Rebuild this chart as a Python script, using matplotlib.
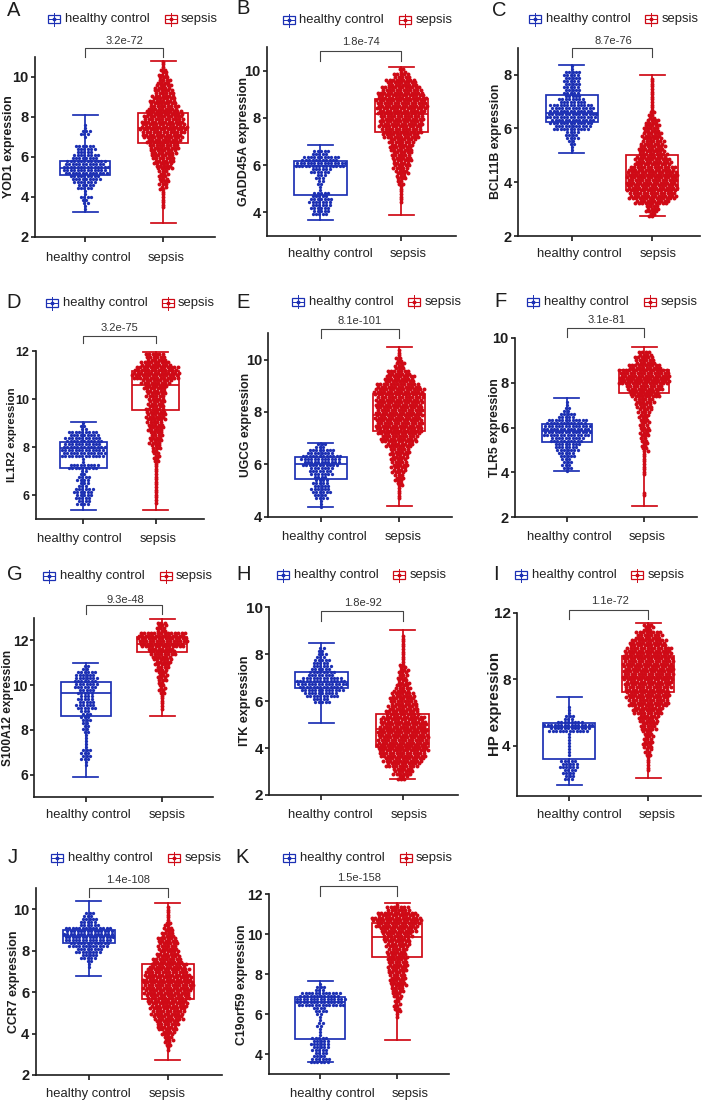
import numpy as np
import matplotlib
matplotlib.use('Agg')
import matplotlib.pyplot as plt
from matplotlib.patches import Rectangle
from matplotlib.transforms import ScaledTranslation

plt.rcParams['font.family'] = ['Liberation Sans', 'DejaVu Sans']

groups = ['healthy control', 'sepsis']
letters = ['A', 'B', 'C', 'D', 'E', 'F', 'G', 'H', 'I', 'J', 'K']
genes = ['YOD1', 'GADD45A', 'BCL11B', 'IL1R2', 'UGCG', 'TLR5', 'S100A12', 'ITK', 'HP', 'CCR7', 'C19orf59']
pvalues = ['3.2e-72', '1.8e-74', '8.7e-76', '3.2e-75', '8.1e-101', '3.1e-81',
           '9.3e-48', '1.8e-92', '1.1e-72', '1.4e-108', '1.5e-158']

# box stats: low whisker, q1, median, q3, high whisker
box_h = [[3.25, 5.1, 5.45, 5.8, 8.1], [3.66, 4.75, 5.98, 6.16, 6.87], [5.08, 6.25, 6.57, 7.23, 8.35],
         [5.38, 7.15, 7.95, 8.2, 9.03], [4.38, 5.45, 6.0, 6.27, 6.82], [4.05, 5.37, 5.83, 6.15, 7.33],
         [5.9, 8.6, 9.65, 10.12, 10.98], [5.08, 6.55, 6.82, 7.24, 8.48], [1.66, 3.22, 5.1, 5.36, 6.96],
         [6.78, 8.35, 8.7, 9.0, 10.37], [3.6, 4.75, 6.6, 6.85, 7.67]]
box_s = [[2.7, 6.7, 7.47, 8.22, 10.8], [3.9, 7.42, 8.18, 8.8, 10.16], [2.73, 3.7, 4.27, 5.02, 7.98],
         [5.37, 9.55, 10.6, 11.18, 11.95], [4.4, 7.28, 7.87, 8.68, 10.48], [2.52, 7.52, 8.1, 8.55, 9.57],
         [8.6, 11.45, 11.85, 12.15, 12.93], [2.68, 4.03, 4.83, 5.47, 9.05], [2.06, 7.24, 8.16, 9.4, 11.38],
         [2.7, 5.67, 6.5, 7.36, 10.3], [4.72, 8.85, 9.85, 10.55, 11.58]]

# swarm width (dots side by side) in bins of 0.25 going up from the start value
a_h_start, a_h_width = 3.25, [0, 1, 2, 4, 1, 5, 7, 9, 13, 14, 12, 8, 5, 6, 0, 1, 3, 1]
a_s_start, a_s_width = 3.5, [1, 1, 1, 1, 2, 3, 3, 3, 5, 6, 7, 8, 9, 10, 12, 13, 14, 13, 12, 11, 9, 8, 7, 6, 5, 4, 3, 2, 1, 1]
b_h_start, b_h_width = 4.0, [5, 6, 7, 5, 1, 2, 3, 6, 15, 11, 5]
b_s_start, b_s_width = 4.5, [1, 1, 1, 2, 3, 4, 5, 6, 6, 7, 8, 11, 12, 13, 13, 14, 15, 15, 14, 12, 9, 5, 2]
c_h_start, c_h_width = 5.25, [1, 2, 4, 11, 13, 15, 13, 8, 5, 5, 5, 5, 1]
c_s_start, c_s_width = 2.75, [2, 4, 10, 14, 15, 15, 15, 14, 11, 9, 8, 7, 6, 5, 4, 2, 1, 1, 1, 1, 1]
d_h_start, d_h_width = 5.75, [4, 5, 6, 3, 4, 2, 9, 1, 13, 13, 11, 9, 2, 1]
d_s_start, d_s_width = 5.75, [1, 1, 1, 1, 1, 1, 1, 2, 2, 3, 4, 4, 5, 5, 6, 6, 5, 5, 6, 7, 9, 14, 13, 9, 6]
e_h_start, e_h_width = 4.5, [1, 4, 6, 5, 4, 7, 11, 12, 8, 3]
e_s_start, e_s_width = 4.75, [1, 1, 2, 3, 4, 5, 5, 6, 8, 11, 13, 14, 14, 14, 14, 14, 15, 13, 9, 7, 3, 2, 1]
f_h_start, f_h_width = 4.0, [1, 3, 3, 5, 7, 8, 10, 14, 14, 12, 5, 2, 1]
f_s_start, f_s_width = 3.0, [1, 0, 0, 0, 1, 1, 1, 1, 2, 2, 2, 3, 3, 3, 3, 4, 5, 6, 9, 11, 15, 15, 15, 10, 6, 4]
g_h_start, g_h_width = 6.5, [1, 3, 3, 1, 1, 1, 2, 2, 3, 3, 6, 5, 4, 5, 7, 7, 6, 2]
g_s_start, g_s_width = 9.0, [1, 1, 1, 2, 2, 3, 3, 4, 5, 6, 8, 13, 15, 14, 3, 3]
h_h_start, h_h_width = 6.0, [5, 10, 13, 15, 12, 8, 6, 5, 3, 2]
h_s_start, h_s_width = 2.75, [3, 6, 10, 12, 14, 15, 15, 15, 15, 14, 13, 10, 9, 8, 7, 5, 4, 3, 3, 2, 1, 1, 1, 1, 1]
i_h_start, i_h_width = 2.0, [3, 3, 4, 6, 5, 0, 1, 1, 1, 1, 1, 1, 12, 15, 8, 3, 1, 1]
i_s_start, i_s_width = 2.5, [1, 1, 1, 1, 2, 2, 3, 3, 3, 3, 5, 5, 6, 6, 9, 9, 12, 12, 13, 13, 14, 14, 15, 15, 15, 15, 15, 15,
                             14, 14, 11, 11, 8, 8, 3, 3]
j_h_start, j_h_width = 7.25, [1, 2, 5, 8, 12, 14, 15, 14, 6, 5, 3]
j_s_start, j_s_width = 3.25, [1, 2, 3, 4, 6, 7, 9, 10, 11, 12, 13, 14, 15, 15, 14, 13, 11, 9, 7, 6, 6, 6, 4, 3, 2, 1, 1, 1]
k_h_start, k_h_width = 3.5, [6, 6, 4, 5, 6, 5, 1, 1, 2, 1, 2, 4, 14, 15, 12, 3, 1]
k_s_start, k_s_width = 6.0, [1, 2, 2, 2, 3, 4, 5, 5, 5, 6, 6, 6, 6, 6, 7, 8, 9, 11, 13, 15, 12, 7, 1]

swarm_h = [(a_h_start, a_h_width), (b_h_start, b_h_width), (c_h_start, c_h_width), (d_h_start, d_h_width),
           (e_h_start, e_h_width), (f_h_start, f_h_width), (g_h_start, g_h_width), (h_h_start, h_h_width),
           (i_h_start, i_h_width), (j_h_start, j_h_width), (k_h_start, k_h_width)]
swarm_s = [(a_s_start, a_s_width), (b_s_start, b_s_width), (c_s_start, c_s_width), (d_s_start, d_s_width),
           (e_s_start, e_s_width), (f_s_start, f_s_width), (g_s_start, g_s_width), (h_s_start, h_s_width),
           (i_s_start, i_s_width), (j_s_start, j_s_width), (k_s_start, k_s_width)]

y_limits = [(2, 11), (3, 11), (2, 9), (5, 12), (4, 11), (2, 10), (5, 13), (2, 10), (1, 12), (2, 11), (3, 12)]
y_ticks = [[2, 4, 6, 8, 10], [4, 6, 8, 10], [2, 4, 6, 8], [6, 8, 10, 12], [4, 6, 8, 10], [2, 4, 6, 8, 10],
           [6, 8, 10, 12], [2, 4, 6, 8, 10], [4, 8, 12], [2, 4, 6, 8, 10], [4, 6, 8, 10, 12]]

# page layout in pixels
# left, right, top, bottom, x of group 1, x of group 2, box half width
axes_px = [(35, 215, 57, 237, 85.3, 163.3, 25), (267, 456, 47, 236, 320.3, 401.3, 26.7),
           (518.3, 699.7, 47.7, 236, 571.7, 652, 26), (35.7, 204, 351, 519.3, 83.3, 155.7, 23.3),
           (268.3, 451.7, 333.3, 516.7, 320.7, 399, 26), (515, 696.7, 337.7, 517.3, 566.7, 644.3, 25),
           (34.3, 213.3, 617.7, 797.3, 85.7, 162, 25), (269.3, 457.7, 607.3, 795, 321.3, 402.7, 26.7),
           (517, 700.7, 612.7, 795.7, 569, 648, 25.7), (35.7, 221.7, 888.3, 1075, 88.7, 167.7, 26),
           (268.7, 449.3, 894.3, 1074.3, 320, 397.3, 25)]
# bracket top, bracket bottom, p text x, p text y
bracket_px = [(48, 57, 124, 41), (51, 61, 361, 42), (48, 57, 613.7, 41), (335.7, 343.3, 119, 328.3),
              (329, 337.7, 359.3, 320.7), (328.3, 337.3, 607, 320), (605, 614, 125.3, 600),
              (611.3, 620.7, 363.3, 603.3), (609.7, 619.3, 610.3, 601), (887.7, 897, 127.7, 880.3),
              (886, 895.7, 358.7, 878)]
# icon 1 left, text 1 left, icon 2 left, text 2 left, y
legend_px = [(48, 65, 165, 181, 19), (283, 299, 399, 416, 20), (528.7, 545.7, 645, 661.7, 19),
             (45.7, 62.7, 162, 178, 303), (292, 308.7, 408.3, 425, 301.7), (527.3, 544, 643.7, 660.3, 301.7),
             (43.3, 60, 159.7, 176, 576.3), (277.3, 294, 393.3, 410, 575.3), (514.7, 531.7, 631.3, 647.7, 575),
             (51.3, 68.3, 168.3, 184.3, 858.3), (283.3, 300.3, 399.7, 416, 858)]
letter_px = [(7, 11), (236, 9), (492, 10), (6, 302), (236, 302.7), (494, 301.7), (6.7, 575), (236, 575),
             (493.3, 574), (7.3, 857.3), (235, 857.7)]
ylabel_x = [9.5, 243.5, 495.5, 12.2, 245.8, 495.2, 8.5, 245.2, 495.5, 14.2, 242]
ylabel_pt = [8.9, 9, 8.8, 8.2, 8.7, 8.8, 8.6, 9.1, 10.8, 8.9, 8.85]
tick_pt = [10.5, 10.5, 10.5, 9, 10.5, 10.5, 10, 11, 11, 10.5, 10]
xlabel_shift = [(3, 3), (10, 7), (8, 6), (-4, 2), (4, 4), (3, 3), (3, 5), (9, 6), (10, 9), (0, -1), (12, 13)]
xlabel_drop = [18.7, 16.3, 16.3, 18, 18, 17.3, 15.3, 17.7, 17, 17.3, 18]

blue = '#1c30b4'
red = '#cf0a16'
ink = '#1d1d1d'


def swarm_points(box, start, widths, ppu, px_per_x, row_px, dot_px, irregular):
    # lay the dots out row by row, the width of a row comes from its bin
    xs, ys = [], []
    for r, y in enumerate(np.arange(box[0], box[4], row_px / ppu)):
        b = int(round((y - start) / 0.25))
        if b < 0 or b >= len(widths) or widths[b] == 0:
            continue
        n = widths[b]
        if irregular:
            shift = ((r * 0.618) % 1 - 0.5) * dot_px
        else:
            shift = (r % 2 - 0.5) * dot_px / 2
        if n == 1:
            shift = 0
        for j in range(n):
            xs.append(((j - (n - 1) / 2) * dot_px + shift) / px_per_x)
            ys.append(y)
    return xs, ys


def draw_box(ax, pos, stats, half, cap, color):
    lo, q1, med, q3, hi = stats
    ax.add_patch(Rectangle((pos - half, q1), 2 * half, q3 - q1, fill=False, ec=color, lw=1.25, zorder=2))
    ax.plot([pos - half, pos + half], [med, med], color=color, lw=1.25, zorder=2, solid_capstyle='butt')
    ax.plot([pos, pos], [lo, q1], color=color, lw=1.25, zorder=2)
    ax.plot([pos, pos], [q3, hi], color=color, lw=1.25, zorder=2)
    ax.plot([pos - cap, pos + cap], [lo, lo], color=color, lw=1.25, zorder=2)
    ax.plot([pos - cap, pos + cap], [hi, hi], color=color, lw=1.25, zorder=2)


def legend_icon(page, x, y, color):
    page.add_patch(Rectangle((x, y - 4), 12, 8, fill=False, ec=color, lw=0.9))
    page.plot([x, x + 12], [y, y], color=color, lw=0.7)
    page.plot([x + 6, x + 6], [y - 6.5, y + 6.5], color=color, lw=0.7)
    page.plot([x + 6], [y], 'o', color=color, ms=2.8, mew=0)


fig = plt.figure(figsize=(7.08, 11.01), dpi=100)
W, H = 708, 1101

# overlay in page pixels for legends, brackets and panel letters
page = fig.add_axes([0, 0, 1, 1], zorder=5)
page.set_xlim(0, W)
page.set_ylim(H, 0)
page.axis('off')

for i in range(len(genes)):
    left, right, top, bottom, x1, x2, half_px = axes_px[i]
    ax = fig.add_axes([left / W, 1 - bottom / H, (right - left) / W, (bottom - top) / H])
    ymin, ymax = y_limits[i]
    ppu = (bottom - top) / (ymax - ymin)
    px_per_x = x2 - x1
    ax.set_xlim(1 - (x1 - left) / px_per_x, 2 + (right - x2) / px_per_x)
    ax.set_ylim(ymin, ymax)

    half = half_px / px_per_x
    cap = 12.5 / px_per_x
    draw_box(ax, 1, box_h[i], half, cap, blue)
    draw_box(ax, 2, box_s[i], half, cap, red)

    xs, ys = swarm_points(box_h[i], swarm_h[i][0], swarm_h[i][1], ppu, px_per_x, 3.0, 3.4, False)
    ax.scatter(np.array(xs) + 1, ys, s=5.6, color=blue, lw=0, zorder=3)
    xs, ys = swarm_points(box_s[i], swarm_s[i][0], swarm_s[i][1], ppu, px_per_x, 2.6, 3.4, True)
    ax.scatter(np.array(xs) + 2, ys, s=8, color=red, lw=0, zorder=3)

    for side in ['top', 'right']:
        ax.spines[side].set_visible(False)
    for side in ['left', 'bottom']:
        ax.spines[side].set_linewidth(1.2)
        ax.spines[side].set_color(ink)
    ax.set_xticks([1, 2])
    ax.set_xticklabels(groups)
    ax.set_yticks(y_ticks[i])
    x_pad = 3.5 + (xlabel_drop[i] - 14) / 1.39
    ax.tick_params(axis='x', length=3.8, width=1.2, color=ink, pad=x_pad, labelsize=9.4, labelcolor='#222222')
    ax.tick_params(axis='y', length=3, width=1.2, color=ink, pad=1.5, labelsize=tick_pt[i], labelcolor=ink)
    for lab in ax.get_yticklabels():
        lab.set_fontweight('bold')
    for lab, dx in zip(ax.get_xticklabels(), xlabel_shift[i]):
        lab.set_transform(lab.get_transform() + ScaledTranslation(dx / 100, 0, fig.dpi_scale_trans))

    ax.set_ylabel(genes[i] + ' expression', fontsize=ylabel_pt[i], fontweight='bold', color=ink, va='center')
    ax.yaxis.set_label_coords((ylabel_x[i] - left) / (right - left), 0.5)

    # significance bracket
    b_top, b_bottom, p_x, p_y = bracket_px[i]
    page.plot([x1, x1, x2, x2], [b_bottom, b_top, b_top, b_bottom], color='#444444', lw=0.8)
    page.text(p_x, p_y, pvalues[i], fontsize=8, color='#333333', ha='center', va='center')

    # legend on top of each panel
    ic1, tx1, ic2, tx2, ly = legend_px[i]
    legend_icon(page, ic1, ly, blue)
    legend_icon(page, ic2, ly, red)
    page.text(tx1, ly, groups[0], fontsize=9.4, color='#222222', ha='left', va='center')
    page.text(tx2, ly, groups[1], fontsize=9.4, color='#222222', ha='left', va='center')

    page.text(letter_px[i][0], letter_px[i][1], letters[i], fontsize=14.5, color=ink, ha='left', va='center')

fig.savefig('out.png', dpi=100)
